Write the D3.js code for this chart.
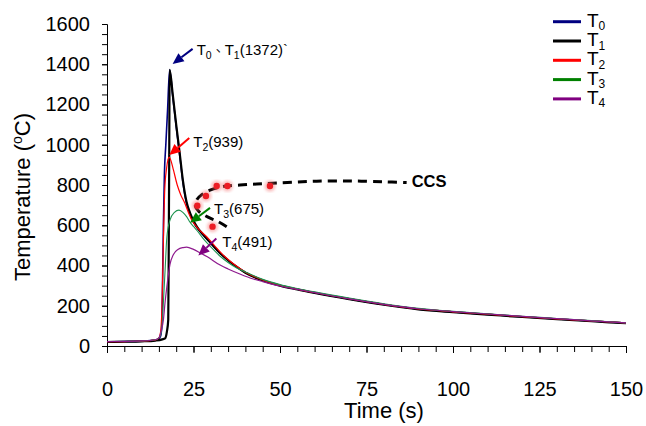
<!DOCTYPE html>
<html>
<head>
<meta charset="utf-8">
<script src="https://cdn.jsdelivr.net/npm/d3@7"></script>
<style>
  html, body { margin: 0; padding: 0; background: #fff; }
  svg { display: block; font-family: "Liberation Sans", Arial, sans-serif; }
</style>
</head>
<body>
<svg id="chart" width="646" height="426"></svg>
<script>
// ---- data ------------------------------------------------------------
const xTickValues = [0, 25, 50, 75, 100, 125, 150];
const yTickValues = [0, 200, 400, 600, 800, 1000, 1200, 1400, 1600];

const seriesKeys = ["0", "1", "2", "3", "4"];   // subscripts of T0..T4

// [time (s), temperature (°C)]
const seriesT0 = [[0,21],[5,22],[10,24],[14,29],[15,36],[15.5,50],[15.8,90],[16.0,250],[16.3,600],[16.6,860],[17.0,1000],[17.5,1170],[18.1,1372],
  [19,1240],[20,1090],[21,950],[22,805],[23,708],[24,655],[25,616],[26,588],[28,547],[30,510],[32.5,464],[35,426],[37.5,393],[40,365],
  [45,327],[50,301],[55,282],[60,265],[70,234],[80,206],[90,183],[100,169],[110,157],[120,145],[130,134],[140,124],[150,114]];
const seriesT1 = [[0,20],[5,21],[10,23],[14,27],[16,33],[16.8,38],[17.3,70],[17.7,130],[17.85,500],[18.0,1000],[18.1,1372],
  [19,1250],[20,1100],[21,960],[22,815],[23,715],[24,662],[25,622],[26,592],[28,550],[30,512],[32.5,465],[35,426],[37.5,393],[40,364],
  [45,326],[50,300],[55,281],[60,264],[70,233],[80,205],[90,182],[100,168],[110,156],[120,144],[130,133],[140,123],[150,113]];
const seriesT2 = [[0,21],[5,22],[10,24],[14,30],[15,40],[15.5,70],[15.9,200],[16.3,520],[16.7,780],[17.2,880],[17.6,925],[18.0,939],
  [18.5,920],[19.2,875],[20.3,800],[21.3,752],[22.5,709],[23.5,665],[24.5,626],[26,590],[28.8,543],[31,500],[33.1,460],[35,430],[37.5,396],[40,367],
  [45,328],[50,302],[55,283],[60,266],[70,235],[80,207],[90,184],[100,170],[110,158],[120,146],[130,135],[140,125],[150,115]];
const seriesT3 = [[0,22],[5,23],[10,25],[14,31],[15,40],[15.6,60],[16.0,120],[16.4,250],[16.8,380],[17.3,540],[18.2,625],[19.5,664],[20.8,675],
  [22,663],[23,643],[24,615],[25,594],[26,574],[28,530],[30,492],[32.7,446],[35,415],[37.5,388],[40,368],
  [45,331],[50,305],[55,286],[60,269],[70,238],[80,210],[90,187],[100,172],[110,160],[120,148],[130,137],[140,126],[150,115]];
const seriesT4 = [[0,22],[5,23],[10,25],[14,31],[15,40],[15.6,70],[16.3,130],[16.8,220],[17.3,295],[18.2,405],[19.2,455],[20.5,480],[22,489],[23,491],
  [25,480],[27,462],[29,443],[32.7,402],[35,383],[38.4,358],[42.3,333],[45,320],
  [50,298],[55,281],[60,265],[70,234],[80,207],[90,185],[100,171],[110,159],[120,147],[130,136],[140,125],[150,115]];

// continuous cooling curve (CCS), lower branch -> nose -> upper branch
const ccsCurve = [[34.6,593],[32.1,618],[29.2,640],[26.6,668],[25.5,697],[26.0,728],[27.4,752],[29.8,774],[33.5,792],
  [38.4,800],[43.3,805],[48,809],[53.8,814],[60.6,819],[70.2,820],[79.8,816],[86.6,812]];
// measured transformation points
const ccsPoints = [[26.1,697],[28.6,745],[31.7,795],[34.8,795],[47.1,795],[30.5,593]];

// peak callouts: which curves, printed value, point the arrow aims at
const calloutSubs   = [["0","1"], ["2"], ["3"], ["4"]];
const calloutValues = [1372, 939, 675, 491];
const calloutTargets = [[18.1,1372],[18.0,939],[24.0,612],[26.4,450]];

// ---- styling ---------------------------------------------------------
const colors = ["#000080", "#000000", "#ff0000", "#008000", "#800080"];
const curveColors = ["#000080", "#000000", "#ff0000", "#1f9450", "#8e1a8e"];
const curveWidths = [1.6, 2.2, 1.2, 1.1, 1.2];

const svg = d3.select("#chart");
const x = d3.scaleLinear().domain([0, 150]).range([107, 626]);
const y = d3.scaleLinear().domain([0, 1600]).range([346, 24]);

// ---- axes ------------------------------------------------------------
svg.append("g").attr("transform", `translate(0,${y(0)})`)
  .call(d3.axisBottom(x).tickValues(xTickValues).tickSize(7).tickSizeOuter(0).tickPadding(29)
    .tickFormat(d3.format("d")));
svg.append("g").attr("transform", `translate(0,${y(0)})`)
  .call(d3.axisBottom(x).tickValues(d3.range(0, 151, 5)).tickSize(6).tickSizeOuter(0).tickFormat(""));
svg.append("g").attr("transform", `translate(${x(0)},0)`)
  .call(d3.axisLeft(y).tickValues(yTickValues).tickSize(5).tickSizeOuter(0).tickPadding(12)
    .tickFormat(d3.format("d")));
svg.append("g").attr("transform", `translate(${x(0)},0)`)
  .call(d3.axisLeft(y).tickValues(d3.range(0, 1601, 50)).tickSize(5).tickSizeOuter(0).tickFormat(""));

svg.selectAll(".domain, .tick line").attr("stroke", "#000").attr("stroke-width", 1);
svg.selectAll(".tick text").attr("font-size", 20).attr("fill", "#000")
  .attr("font-family", "'Liberation Sans', Arial, sans-serif");

// axis titles
svg.append("text").attr("x", 384).attr("y", 418).attr("text-anchor", "middle")
  .attr("font-size", 22).text("Time (s)");
const yTitle = svg.append("text").attr("transform", "translate(30,197) rotate(-90)")
  .attr("text-anchor", "middle").attr("font-size", 22);
yTitle.append("tspan").text("Temperature (");
yTitle.append("tspan").attr("font-size", 14).attr("dy", -8).text("o");
yTitle.append("tspan").attr("dy", 8).text("C)");

// ---- curves ----------------------------------------------------------
const line = d3.line().x(d => x(d[0])).y(d => y(d[1])).curve(d3.curveMonotoneX);
const allSeries = [seriesT0, seriesT1, seriesT2, seriesT3, seriesT4];
allSeries.forEach((s, i) => {
  svg.append("path").datum(s).attr("d", line)
    .attr("fill", "none").attr("stroke", curveColors[i]).attr("stroke-width", curveWidths[i])
    .attr("stroke-linejoin", "round");
});

// ---- CCS curve and points -------------------------------------------
const ccsLine = d3.line().x(d => x(d[0])).y(d => y(d[1])).curve(d3.curveCatmullRom.alpha(0.5));
svg.append("path").datum(ccsCurve).attr("d", ccsLine)
  .attr("fill", "none").attr("stroke", "#000").attr("stroke-width", 3)
  .attr("stroke-dasharray", "9,6");
const last = ccsCurve[ccsCurve.length - 1];
svg.append("text").attr("x", x(last[0]) + 5).attr("y", y(last[1]) + 4)
  .attr("font-size", 16.5).attr("font-weight", "bold").text("CCS");

const defs = svg.append("defs");
defs.append("filter").attr("id", "soft").append("feGaussianBlur").attr("stdDeviation", 1.6);
const dots = svg.append("g");
dots.selectAll("circle.halo").data(ccsPoints).join("circle").attr("class", "halo")
  .attr("cx", d => x(d[0])).attr("cy", d => y(d[1])).attr("r", 5.5)
  .attr("fill", "#f46a6a").attr("opacity", 0.45).attr("filter", "url(#soft)");
dots.selectAll("circle.core").data(ccsPoints).join("circle").attr("class", "core")
  .attr("cx", d => x(d[0])).attr("cy", d => y(d[1])).attr("r", 3.2)
  .attr("fill", "#ec1c24");

// ---- callouts --------------------------------------------------------
const calloutColors = [colors[0], colors[2], colors[3], colors[4]];
const tipShift = [[3, -6], [0, -2], [0, 0], [0, 0]];
const tailShift = [[20, -15], [20, -17], [20, -15], [18, -17]];
calloutTargets.forEach((t, i) => {
  const tx = x(t[0]) + tipShift[i][0], ty = y(t[1]) + tipShift[i][1];
  const sx = tx + tailShift[i][0], sy = ty + tailShift[i][1];
  const ang = Math.atan2(ty - sy, tx - sx);
  const headLen = 11, headHalf = 5;
  const bx = tx - headLen * Math.cos(ang), by = ty - headLen * Math.sin(ang);
  svg.append("line").attr("x1", sx).attr("y1", sy).attr("x2", bx).attr("y2", by)
    .attr("stroke", calloutColors[i]).attr("stroke-width", 2);
  const px = -Math.sin(ang), py = Math.cos(ang);
  svg.append("path")
    .attr("d", `M${tx},${ty}L${bx + px * headHalf},${by + py * headHalf}L${bx - px * headHalf},${by - py * headHalf}Z`)
    .attr("fill", calloutColors[i]);

  const label = svg.append("text").attr("x", tx + 24).attr("y", ty - 8.5).attr("font-size", 15);
  calloutSubs[i].forEach((s, k) => {
    if (k > 0) label.append("tspan").attr("dy", -4).attr("font-size", 13)
      .attr("font-family", "'Noto Sans CJK TC', sans-serif").text("、");
    label.append("tspan").text("T");
    label.append("tspan").attr("font-size", 10.5).attr("dy", 4).text(s);
  });
  label.append("tspan").attr("dy", -4).text(`(${calloutValues[i]})` + (i === 0 ? "`" : ""));
});

// ---- legend ----------------------------------------------------------
const legend = svg.append("g");
seriesKeys.forEach((k, i) => {
  const ly = 21.7 + i * 19.3;
  legend.append("line").attr("x1", 553).attr("x2", 581).attr("y1", ly).attr("y2", ly)
    .attr("stroke", colors[i]).attr("stroke-width", 3);
  const t = legend.append("text").attr("x", 587).attr("y", ly + 5).attr("font-size", 19);
  t.append("tspan").text("T");
  t.append("tspan").attr("font-size", 12).attr("dy", 3.5).text(k);
});
</script>
</body>
</html>
